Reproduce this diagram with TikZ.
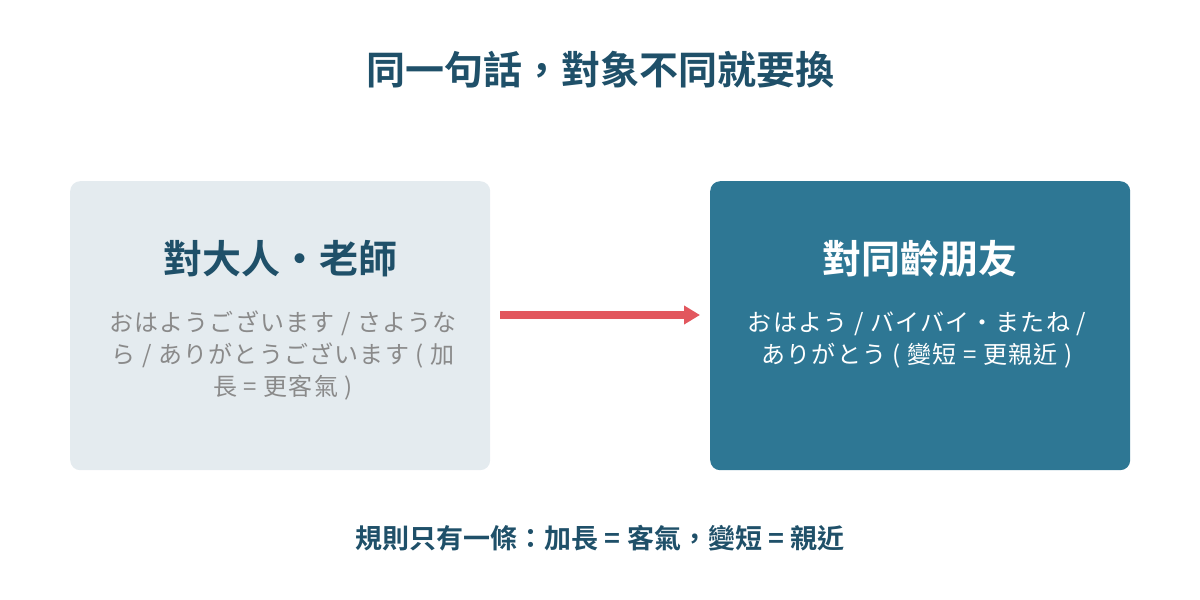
\documentclass[tikz,border=0pt]{standalone}
\usetikzlibrary{arrows.meta}
\usepackage{fontspec}
\setmainfont{Noto Sans CJK TC}
\newfontfamily\cjkb{Noto Sans CJK TC Bold}
\newfontfamily\cjkbody[LetterSpace=5]{Noto Sans CJK TC}
\definecolor{dark}{HTML}{1F5069}
\definecolor{teal}{HTML}{2E7794}
\definecolor{light}{HTML}{E4EBEF}
\definecolor{grey}{HTML}{8A8A8A}
\definecolor{red}{HTML}{E2575E}
\begin{document}
\begin{tikzpicture}[x=1pt,y=-1pt,
  box/.style={rounded corners=10pt,minimum width=420pt,minimum height=289pt,anchor=north west,inner sep=0pt},
  head/.style={font=\cjkb\fontsize{39}{46}\selectfont},
  body/.style={font=\cjkbody\fontsize{24}{32}\selectfont,align=center}]
\useasboundingbox (0,0) rectangle (1200,600);
\node[font=\cjkb\fontsize{39}{46}\selectfont,text=dark] (title) at (600,70) {同一句話，對象不同就要換};
\node[box,fill=light] (L) at (70,181) {};
\node[box,fill=teal] (R) at (710,181) {};
\node[head,text=dark] (lh) at (280,259) {對大人・老師};
\node[head,text=white] (rh) at (920,259) {對同齡朋友};
\node[body,text=grey] (lb) at (283,356) {おはようございます / さような\\ら / ありがとうございます ( 加\\長 = 更客氣 )};
\node[body,text=white] (rb) at (917,340) {おはよう / バイバイ・またね /\\ありがとう ( 變短 = 更親近 )};
\coordinate (a1) at (500,315);
\coordinate (a2) at (700,315);
\draw[red,line width=8pt,-{Triangle[length=16pt,width=18pt]}] (a1) -- (a2);
\node[font=\cjkb\fontsize{27}{32}\selectfont,text=dark] (foot) at (600,538) {規則只有一條：加長 = 客氣，變短 = 親近};
\end{tikzpicture}
\end{document}
